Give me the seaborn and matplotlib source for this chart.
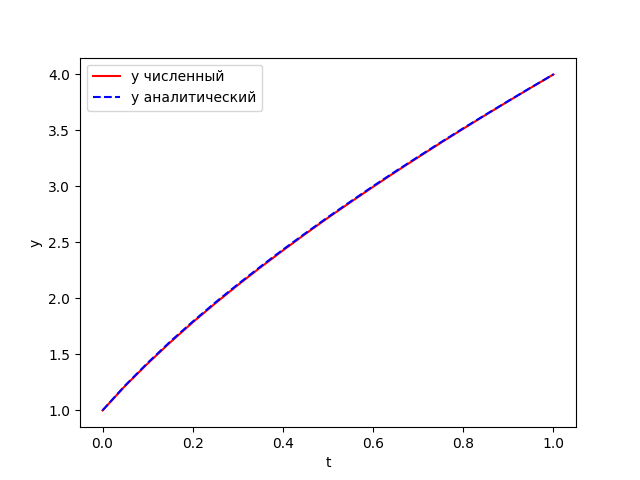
import matplotlib
matplotlib.use("Agg")
import matplotlib.pyplot as plt
import seaborn as sns
import pandas as pd

t_vals = [0.00, 0.05, 0.10, 0.15, 0.20, 0.25, 0.30, 0.35, 0.40, 0.45, 0.50,
          0.55, 0.60, 0.65, 0.70, 0.75, 0.80, 0.85, 0.90, 0.95, 1.00]
y_analytic = [1.000, 1.222, 1.424, 1.614, 1.793, 1.963, 2.126, 2.283, 2.435,
              2.582, 2.726, 2.865, 3.002, 3.135, 3.265, 3.393, 3.519, 3.642,
              3.763, 3.883, 4.000]
y_numeric = [1.000, 1.218, 1.418, 1.607, 1.786, 1.956, 2.119, 2.276, 2.428,
             2.576, 2.720, 2.859, 2.996, 3.130, 3.260, 3.389, 3.515, 3.639,
             3.761, 3.881, 4.000]

df = pd.DataFrame({"t": t_vals, "num": y_numeric, "an": y_analytic})

fig, ax = plt.subplots(figsize=(6.4, 4.8), dpi=100)
sns.lineplot(data=df, x="t", y="num", color="red", label="y численный", ax=ax)
sns.lineplot(data=df, x="t", y="an", color="blue", linestyle="--",
             label="y аналитический", ax=ax)
ax.set_xlabel("t")
ax.set_ylabel("y")
ax.legend(loc="upper left")
fig.savefig("out.png", dpi=100)
